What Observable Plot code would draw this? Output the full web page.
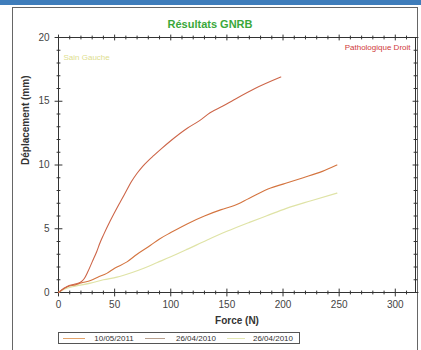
<!DOCTYPE html>
<html><head><meta charset="utf-8">
<script src="https://cdn.jsdelivr.net/npm/d3@7"></script>
<script src="https://cdn.jsdelivr.net/npm/@observablehq/plot@0.6"></script>
<style>
body{margin:0;background:#fff;}
#wrap{position:relative;width:421px;height:350px;overflow:hidden;font-family:"Liberation Sans",Arial,sans-serif;background:#fff;}
#wrap svg{position:absolute;left:0;top:0;}
.ov{position:absolute;}
</style></head><body><div id="wrap"></div>
<script>
// Series: 10/05/2011 (Pathologique Droit, steep)
const force2011 = [0, 2, 7.7, 14, 19.6, 23, 26, 30, 34, 37, 40, 46, 55, 60, 65, 70, 75, 80, 85, 92, 100, 115, 126, 135, 146, 156, 175, 198];
const disp2011  = [0, 0.15, 0.47, 0.65, 0.8, 1.1, 1.6, 2.4, 3.2, 3.9, 4.5, 5.6, 7.1, 7.9, 8.7, 9.35, 9.9, 10.35, 10.75, 11.3, 11.9, 12.9, 13.5, 14.1, 14.6, 15.1, 16.0, 16.9];
// Series: 26/04/2010 (middle)
const force2010a = [0, 3, 8, 15, 20, 28.5, 35, 43, 50, 61, 70, 82, 90, 100, 115, 130, 145, 156, 170, 189, 200, 218, 235, 248];
const disp2010a  = [0, 0.2, 0.45, 0.6, 0.75, 0.94, 1.2, 1.5, 1.9, 2.4, 3.0, 3.7, 4.2, 4.7, 5.4, 6.0, 6.5, 6.8, 7.4, 8.2, 8.5, 9.0, 9.5, 10.0];
// Series: 26/04/2010 (Sain Gauche, light)
const force2010b = [0, 5, 15, 28.5, 40, 52, 65, 76, 88, 100, 115, 132, 150, 170, 185, 203, 225, 248];
const disp2010b  = [0, 0.25, 0.5, 0.73, 1.0, 1.2, 1.55, 1.9, 2.35, 2.8, 3.4, 4.1, 4.8, 5.5, 6.0, 6.6, 7.2, 7.8];

const xTickLabels = [0, 50, 100, 150, 200, 250, 300];
const yTickLabels = [0, 5, 10, 15, 20];
const xMinor = d3.range(0, 320, 10).filter(d => d % 50 !== 0);
const yMinor = d3.range(0, 21, 1).filter(d => d % 5 !== 0);
const legendLabels = ["10/05/2011", "26/04/2010", "26/04/2010"];

const toPts = (xs, ys) => xs.map((x, i) => ({x, y: ys[i]}));
const s1 = toPts(force2011, disp2011);
const s2 = toPts(force2010a, disp2010a);
const s3 = toPts(force2010b, disp2010b);

const tickShape = {draw(ctx, l) { ctx.moveTo(0, 0); ctx.lineTo(0, -l); }};
const axC = "#333";
const tk = (data, opts) => Plot.vector(data, {shape: tickShape, anchor: "middle", stroke: axC, strokeWidth: 1, ...opts});

const plot = Plot.plot({
  width: 421, height: 350,
  marginLeft: 58, marginRight: 6, marginTop: 37, marginBottom: 58,
  style: {fontFamily: "'Liberation Sans', Arial, sans-serif", fontSize: "10px", color: "#333", background: "transparent"},
  x: {domain: [0, 318]},
  y: {domain: [0, 20]},
  marks: [
    Plot.frame({stroke: axC}),
    Plot.axisX(xTickLabels, {tickSize: 0, tickPadding: 8, label: null, fill: "#444"}),
    Plot.axisY(yTickLabels, {tickSize: 0, tickPadding: 9, label: null, fill: "#444"}),
    // minor/major ticks on 4 sides
    tk(xMinor, {x: d => d, y: 0, length: 3, rotate: 0}),
    tk(xTickLabels, {x: d => d, y: 0, length: 7, rotate: 0}),
    tk(xMinor, {x: d => d, y: 20, length: 3, rotate: 0}),
    tk(xTickLabels, {x: d => d, y: 20, length: 5, rotate: 0}),
    tk(yMinor, {y: d => d, x: 0, length: 3, rotate: 90}),
    tk(yTickLabels, {y: d => d, x: 0, length: 7, rotate: 90}),
    tk(yMinor, {y: d => d, x: 318, length: 3, rotate: 90}),
    tk(yTickLabels, {y: d => d, x: 318, length: 5, rotate: 90}),
    Plot.line(s3, {x: "x", y: "y", stroke: "#dfe3a6", strokeWidth: 1.2, curve: "monotone-x"}),
    Plot.line(s2, {x: "x", y: "y", stroke: "#d4743f", strokeWidth: 1.1, curve: "monotone-x"}),
    Plot.line(s1, {x: "x", y: "y", stroke: "#cd6548", strokeWidth: 1.1, curve: "monotone-x"}),
    Plot.text(["Sain Gauche"], {frameAnchor: "top-left", dx: 5, dy: 17, fill: "#dede8e", fontSize: 8, textAnchor: "start"}),
    Plot.text(["Pathologique Droit"], {frameAnchor: "top-right", dx: -5, dy: 7, fill: "#d03a3a", fontSize: 8, textAnchor: "end"}),
    Plot.text(["Résultats GNRB"], {frameAnchor: "top", dx: -27, dy: -17, fill: "#3aa83a", fontSize: 11, fontWeight: "bold"}),
    Plot.text(["Force (N)"], {frameAnchor: "bottom", dy: 31, fill: "#333", fontSize: 10, fontWeight: "bold"}),
    Plot.text(["Déplacement (mm)"], {frameAnchor: "left", dx: -33, rotate: -90, fill: "#333", fontSize: 10, fontWeight: "bold"})
  ]
});

const wrap = document.getElementById("wrap");
// decorative page frame
const bar = document.createElement("div"); bar.className = "ov";
Object.assign(bar.style, {left: "0px", top: "0px", width: "421px", height: "5px", background: "#3f7dbb"});
const border = document.createElement("div"); border.className = "ov";
Object.assign(border.style, {left: "12px", top: "7px", width: "406px", height: "360px", border: "1px solid #666", boxSizing: "border-box"});
wrap.appendChild(bar); wrap.appendChild(border);
wrap.appendChild(plot);

// legend
const legColors = ["#e3a36b", "#b8a08e", "#e4e8b4"];
const leg = document.createElement("div"); leg.className = "ov";
Object.assign(leg.style, {left: "58px", top: "332px", width: "242px", height: "12px", border: "1px solid #555", boxSizing: "border-box", display: "flex", alignItems: "center", fontSize: "8px", color: "#333", fontFamily: "'Liberation Sans', Arial, sans-serif"});
const lineW = [22, 20, 18];
const gaps = [6, 8, 4];
legendLabels.forEach((lab, i) => {
  const ln = document.createElement("span");
  Object.assign(ln.style, {display: "inline-block", width: lineW[i] + "px", height: "1px", background: legColors[i], marginLeft: (i === 0 ? 4 : 8) + "px", marginRight: gaps[i] + "px"});
  const tx = document.createElement("span"); tx.textContent = lab;
  Object.assign(tx.style, {width: (i === 2 ? 48 : 46) + "px", textAlign: "center"});
  leg.appendChild(ln); leg.appendChild(tx);
});
wrap.appendChild(leg);
</script></body></html>
